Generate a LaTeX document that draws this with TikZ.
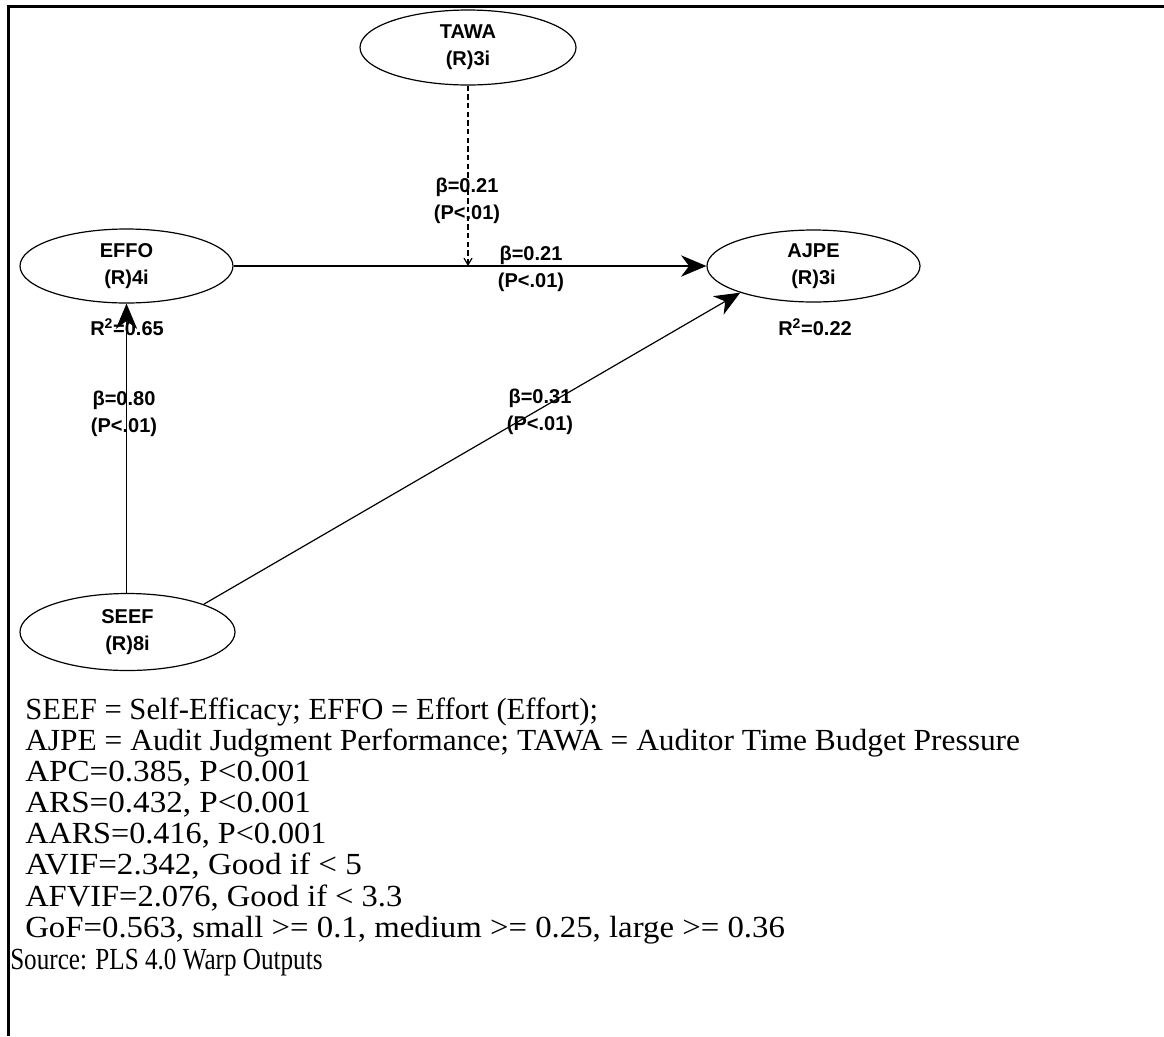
\documentclass[tikz,border=0pt]{standalone}
\usepackage{fontspec}
\setmainfont{Liberation Serif}
\newfontfamily\arialf{Liberation Sans}
\usetikzlibrary{shapes.geometric,arrows.meta}
\begin{document}
\begin{tikzpicture}[x=0.75pt,y=-0.75pt,
  lv/.style={ellipse,draw,line width=0.9pt,inner sep=0pt,align=center,
    font=\arialf\bfseries\fontsize{15}{20}\selectfont},
  lab/.style={inner sep=0pt,align=center,
    font=\arialf\bfseries\fontsize{15}{20}\selectfont},
  arr/.style={line width=1.2pt,-{Stealth[length=19pt,width=16pt,inset=6pt]}},
  txt/.style={anchor=base west,inner sep=0pt,font=\fontsize{23}{26}\selectfont},
  frame/.style={line width=2.25pt}]
\useasboundingbox (0,0) rectangle (1164,1036);
\draw[frame] (7,6) -- (1164,6);
\draw[frame] (8.5,4.9) -- (8.5,1036);

\node[lv,minimum width=162pt,minimum height=56.25pt] (tawa) at (468,47.5) {TAWA\\(R)3i};
\node[lv,minimum width=159.75pt,minimum height=55.5pt] (effo) at (126.5,266) {EFFO\\(R)4i};
\node[lv,minimum width=159.75pt,minimum height=54pt] (ajpe) at (813.5,266) {AJPE\\(R)3i};
\node[lv,minimum width=161.25pt,minimum height=57.75pt] (seef) at (127.5,632) {SEEF\\(R)8i};

\coordinate (mod) at (468,266);
\draw[arr] (effo) -- (ajpe);
\draw[arr] (seef.north -| effo.south) -- (effo.south);
\draw[line width=0.9pt,-{Stealth[length=19pt,width=16pt,inset=6pt]}] (seef.20) -- (ajpe.200.7);
\draw[line width=0.9pt,dash pattern=on 4pt off 2.5pt,-{Straight Barb[length=5pt,width=6pt]}] (tawa.south) -- (mod);

\node[lab] (l1) at (467,201) {β=0.21\\(P<.01)};
\node[lab] (l2) at (531,269) {β=0.21\\(P<.01)};
\node[lab] (l3) at (124,414) {β=0.80\\(P<.01)};
\node[lab] (l4) at (540,412) {β=0.31\\(P<.01)};
\node[lab] (r1) at (127,327) {R\textsuperscript{2}=0.65};
\node[lab] (r2) at (815,327) {R\textsuperscript{2}=0.22};

\node[txt] (t1) at (25,719) {SEEF = Self-Efficacy; EFFO = Effort (Effort);};
\node[txt] (t2) at (25,750) {\scalebox{1.025}[1]{AJPE = Audit Judgment Performance; TAWA = Auditor Time Budget Pressure}};
\node[txt] (t3) at (25,781) {\scalebox{1.08}[1]{APC=0.385, P<0.001}};
\node[txt] (t4) at (25,812) {\scalebox{1.08}[1]{ARS=0.432, P<0.001}};
\node[txt] (t5) at (25,843) {\scalebox{1.05}[1]{AARS=0.416, P<0.001}};
\node[txt] (t6) at (25,874) {\scalebox{1.08}[1]{AVIF=2.342, Good if < 5}};
\node[txt] (t7) at (25,906) {\scalebox{1.06}[1]{AFVIF=2.076, Good if < 3.3}};
\node[txt] (t8) at (25,937) {\scalebox{1.07}[1]{GoF=0.563, small >= 0.1, medium >= 0.25, large >= 0.36}};
\node[txt] (t9) at (10,969) {\scalebox{0.82}[1]{Source: PLS 4.0 Warp Outputs}};
\end{tikzpicture}
\end{document}
